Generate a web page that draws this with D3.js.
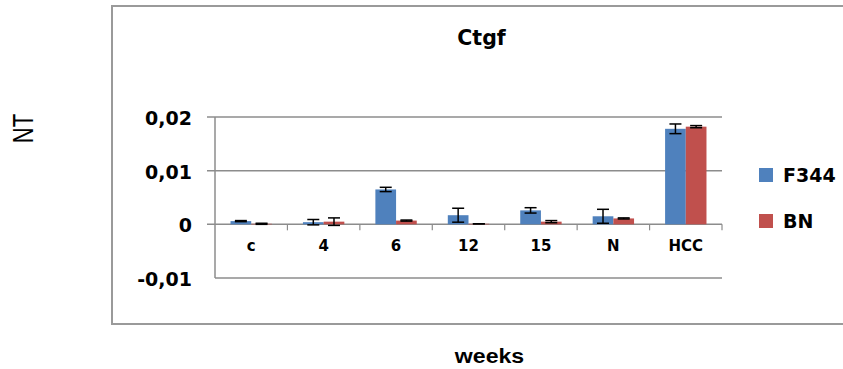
<!DOCTYPE html>
<html>
<head>
<meta charset="utf-8">
<script src="https://cdn.jsdelivr.net/npm/d3@7"></script>
<style>
  html, body { margin: 0; padding: 0; background: #fff; }
  svg { display: block; }
</style>
</head>
<body>
<svg id="chart" width="843" height="369"></svg>
<script>
// ---- data ----
const categories = ["c", "4", "6", "12", "15", "N", "HCC"];
const seriesNames = ["F344", "BN"];
const f344Values = [0.0006, 0.0004, 0.0065, 0.0017, 0.0026, 0.0015, 0.0178];
const f344Errors = [0.0001, 0.0005, 0.0004, 0.0013, 0.0005, 0.0013, 0.0009];
const bnValues   = [0.0001, 0.0005, 0.0007, 0.0001, 0.0005, 0.0011, 0.0182];
const bnErrors   = [0.0001, 0.0007, 0.0001, 0.0000, 0.0002, 0.0001, 0.0002];
const yTicks = [-0.01, 0, 0.01, 0.02];
const yTickLabels = ["-0,01", "0", "0,01", "0,02"];
const colors = ["#4F81BD", "#C0504D"];

const svg = d3.select("#chart");
svg.append("rect").attr("width", 843).attr("height", 369).attr("fill", "#fff");

// outer chart frame
svg.append("rect")
  .attr("x", 112).attr("y", 6).attr("width", 740).attr("height", 318)
  .attr("fill", "none").attr("stroke", "#9a9a9a").attr("stroke-width", 2);

const plot = { left: 215, right: 722, top: 117, bottom: 278 };

const y = d3.scaleLinear().domain([-0.01, 0.02]).range([plot.bottom, plot.top]);
const x0 = d3.scaleBand().domain(categories).range([plot.left, plot.right]).padding(0);
const x1 = d3.scaleBand().domain(seriesNames).range([0, x0.bandwidth()])
  .paddingInner(0).paddingOuter(0.75);

// gridlines with ticks extending left
const grid = svg.append("g");
yTicks.forEach(t => {
  grid.append("line")
    .attr("x1", t === -0.01 ? plot.left : plot.left - 8).attr("x2", plot.right)
    .attr("y1", y(t)).attr("y2", y(t))
    .attr("stroke", "#8c8c8c").attr("stroke-width", 1.5);
});

// y axis line
svg.append("line")
  .attr("x1", plot.left).attr("x2", plot.left)
  .attr("y1", plot.top).attr("y2", plot.bottom)
  .attr("stroke", "#8c8c8c").attr("stroke-width", 1.5);

// y tick labels
const yAxis = d3.axisLeft(y).tickValues(yTicks)
  .tickFormat(d => yTickLabels[yTicks.indexOf(d)]).tickSize(0).tickPadding(0);
const gy = svg.append("g").attr("transform", `translate(${plot.left - 23},1.5)`).call(yAxis);
gy.select(".domain").remove();
gy.selectAll("text")
  .attr("font-family", "DejaVu Sans").attr("font-weight", "bold")
  .attr("font-size", 19).attr("fill", "#000");

// category ticks on zero line
const boundaries = categories.map(c => x0(c)).concat([plot.right]);
boundaries.slice(1).forEach(bx => {
  svg.append("line")
    .attr("x1", bx).attr("x2", bx).attr("y1", y(0)).attr("y2", y(0) + 6)
    .attr("stroke", "#8c8c8c").attr("stroke-width", 1.2);
});

// category labels
const xAxis = d3.axisBottom(x0).tickSize(0).tickPadding(0);
const gx = svg.append("g").attr("transform", `translate(0,${y(0) + 25})`).call(xAxis);
gx.select(".domain").remove();
gx.selectAll("text")
  .attr("font-family", "DejaVu Sans").attr("font-weight", "bold")
  .attr("font-size", 15).attr("fill", "#000").attr("dy", "0.1em");

// bars
const data = categories.map((c, i) => ({
  cat: c,
  vals: [
    { s: "F344", v: f344Values[i], e: f344Errors[i], k: 0 },
    { s: "BN", v: bnValues[i], e: bnErrors[i], k: 1 }
  ]
}));

const groups = svg.append("g").selectAll("g").data(data).join("g")
  .attr("transform", d => `translate(${x0(d.cat)},0)`);

groups.selectAll("rect").data(d => d.vals).join("rect")
  .attr("x", d => x1(d.s))
  .attr("width", x1.bandwidth())
  .attr("y", d => y(Math.max(0, d.v)))
  .attr("height", d => Math.abs(y(d.v) - y(0)))
  .attr("fill", d => colors[d.k]);

// error bars
const capW = 12;
groups.each(function (d) {
  const g = d3.select(this);
  d.vals.forEach(p => {
    const cx = x1(p.s) + x1.bandwidth() / 2;
    const yt = y(p.v + p.e), yb = y(p.v - p.e);
    g.append("line").attr("x1", cx).attr("x2", cx).attr("y1", yt).attr("y2", yb)
      .attr("stroke", "#000").attr("stroke-width", 1.5);
    [yt, yb].forEach(yy => {
      g.append("line").attr("x1", cx - capW / 2).attr("x2", cx + capW / 2)
        .attr("y1", yy).attr("y2", yy)
        .attr("stroke", "#000").attr("stroke-width", 1.5);
    });
  });
});

// title
svg.append("text")
  .attr("x", 481.5).attr("y", 44.5).attr("text-anchor", "middle")
  .attr("font-family", "DejaVu Sans").attr("font-weight", "bold")
  .attr("font-size", 20.5).attr("fill", "#000")
  .text("Ctgf");

// legend
const legend = svg.append("g");
seriesNames.forEach((s, i) => {
  const ly = 168 + i * 46;
  legend.append("rect").attr("x", 759).attr("y", ly).attr("width", 14).attr("height", 14)
    .attr("fill", colors[i]);
  legend.append("text").attr("x", 783).attr("y", ly + 14)
    .attr("font-family", "DejaVu Sans").attr("font-weight", "bold")
    .attr("font-size", 19).attr("fill", "#000").text(s);
});

// y-axis title
svg.append("text")
  .attr("transform", "translate(33,128.5) scale(1.3,1) rotate(-90)")
  .attr("text-anchor", "middle")
  .attr("font-family", "Liberation Sans").attr("font-size", 22).attr("fill", "#000")
  .text("NT");

// x-axis title
svg.append("text")
  .attr("transform", "translate(489.5,363) scale(1.1,1)")
  .attr("text-anchor", "middle")
  .attr("font-family", "Liberation Sans").attr("font-weight", "bold")
  .attr("font-size", 21).attr("fill", "#000")
  .text("weeks");
</script>
</body>
</html>
